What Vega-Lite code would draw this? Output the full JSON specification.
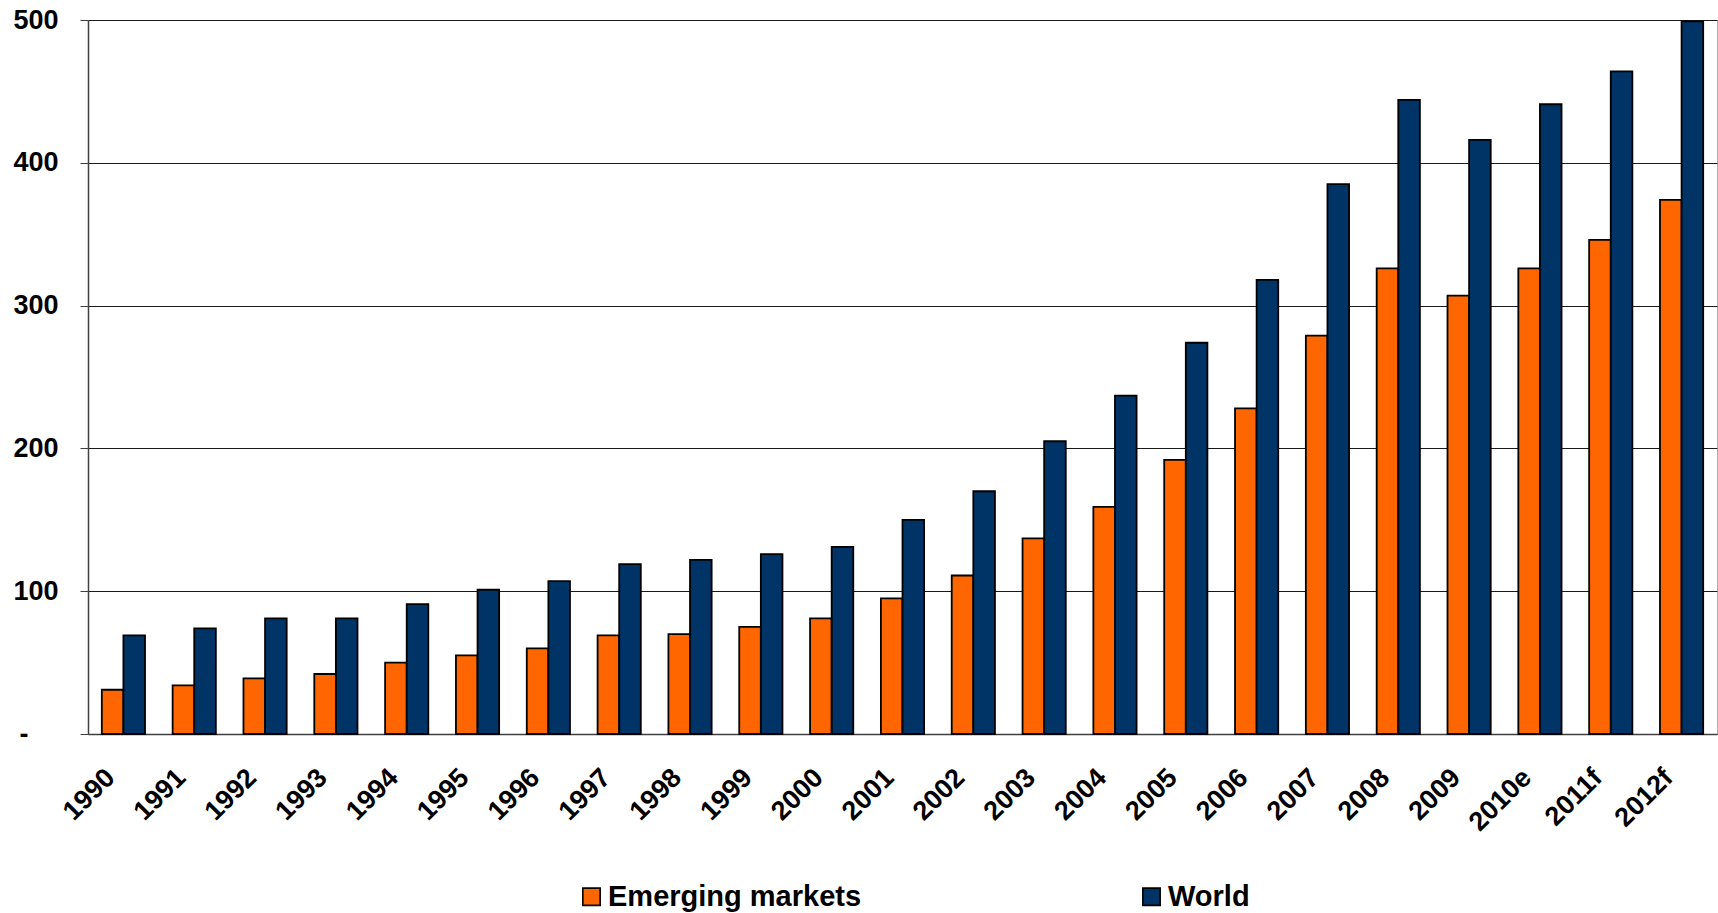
{
  "$schema": "https://vega.github.io/schema/vega-lite/v6.json",
  "autosize": {"type": "none"},
  "padding": {"left": 88, "top": 20, "right": 1, "bottom": 179},
  "width": 1629,
  "height": 714,
  "background": "#ffffff",
  "config": {
    "font": "Liberation Sans",
    "view": {"stroke": "#b0b0b0", "strokeWidth": 1}
  },
  "data": {
    "values": [
      {"year": "1990", "series": "Emerging markets", "value": 31},
      {"year": "1990", "series": "World", "value": 69},
      {"year": "1991", "series": "Emerging markets", "value": 34},
      {"year": "1991", "series": "World", "value": 74},
      {"year": "1992", "series": "Emerging markets", "value": 39},
      {"year": "1992", "series": "World", "value": 81},
      {"year": "1993", "series": "Emerging markets", "value": 42},
      {"year": "1993", "series": "World", "value": 81},
      {"year": "1994", "series": "Emerging markets", "value": 50},
      {"year": "1994", "series": "World", "value": 91},
      {"year": "1995", "series": "Emerging markets", "value": 55},
      {"year": "1995", "series": "World", "value": 101},
      {"year": "1996", "series": "Emerging markets", "value": 60},
      {"year": "1996", "series": "World", "value": 107},
      {"year": "1997", "series": "Emerging markets", "value": 69},
      {"year": "1997", "series": "World", "value": 119},
      {"year": "1998", "series": "Emerging markets", "value": 70},
      {"year": "1998", "series": "World", "value": 122},
      {"year": "1999", "series": "Emerging markets", "value": 75},
      {"year": "1999", "series": "World", "value": 126},
      {"year": "2000", "series": "Emerging markets", "value": 81},
      {"year": "2000", "series": "World", "value": 131},
      {"year": "2001", "series": "Emerging markets", "value": 95},
      {"year": "2001", "series": "World", "value": 150},
      {"year": "2002", "series": "Emerging markets", "value": 111},
      {"year": "2002", "series": "World", "value": 170},
      {"year": "2003", "series": "Emerging markets", "value": 137},
      {"year": "2003", "series": "World", "value": 205},
      {"year": "2004", "series": "Emerging markets", "value": 159},
      {"year": "2004", "series": "World", "value": 237},
      {"year": "2005", "series": "Emerging markets", "value": 192},
      {"year": "2005", "series": "World", "value": 274},
      {"year": "2006", "series": "Emerging markets", "value": 228},
      {"year": "2006", "series": "World", "value": 318},
      {"year": "2007", "series": "Emerging markets", "value": 279},
      {"year": "2007", "series": "World", "value": 385},
      {"year": "2008", "series": "Emerging markets", "value": 326},
      {"year": "2008", "series": "World", "value": 444},
      {"year": "2009", "series": "Emerging markets", "value": 307},
      {"year": "2009", "series": "World", "value": 416},
      {"year": "2010e", "series": "Emerging markets", "value": 326},
      {"year": "2010e", "series": "World", "value": 441},
      {"year": "2011f", "series": "Emerging markets", "value": 346},
      {"year": "2011f", "series": "World", "value": 464},
      {"year": "2012f", "series": "Emerging markets", "value": 374},
      {"year": "2012f", "series": "World", "value": 499}
    ]
  },
  "mark": {"type": "bar", "stroke": "#000000", "strokeWidth": 1.8},
  "encoding": {
    "x": {
      "field": "year",
      "type": "nominal",
      "sort": null,
      "title": null,
      "scale": {"paddingInner": 0.39, "paddingOuter": 0.195},
      "axis": {
        "labelAngle": -45,
        "labelFont": "Liberation Sans",
        "labelFontWeight": "bold",
        "labelFontSize": 27,
        "labelColor": "#000000",
        "labelPadding": 30,
        "labelOffset": -22,
        "ticks": false,
        "domainColor": "#404040",
        "domainWidth": 1.5,
        "grid": false
      }
    },
    "xOffset": {"field": "series", "type": "nominal"},
    "y": {
      "field": "value",
      "type": "quantitative",
      "title": null,
      "scale": {"domain": [0, 500], "nice": false},
      "axis": {
        "values": [0, 100, 200, 300, 400, 500],
        "labelExpr": "datum.value === 0 ? '-' : datum.label",
        "labelFont": "Liberation Sans",
        "labelFontWeight": "bold",
        "labelFontSize": 27,
        "labelColor": "#000000",
        "labelPadding": {"condition": {"test": "datum.value === 0", "value": 52}, "value": 22},
        "tickSize": 8,
        "tickColor": "#404040",
        "domainColor": "#404040",
        "domainWidth": 1.5,
        "grid": true,
        "gridColor": "#1a1a1a",
        "gridWidth": 1
      }
    },
    "fill": {
      "field": "series",
      "type": "nominal",
      "title": null,
      "scale": {"domain": ["Emerging markets", "World"], "range": ["#FF6600", "#003366"]},
      "legend": {
        "orient": "none",
        "direction": "horizontal",
        "columns": 2,
        "gridAlign": "all",
        "legendX": 489,
        "legendY": 862,
        "symbolType": "square",
        "symbolSize": 300,
        "symbolStrokeColor": "#000000",
        "symbolStrokeWidth": 1.6,
        "symbolOffset": 0,
        "labelOffset": 2,
        "labelFont": "Liberation Sans",
        "labelFontWeight": "bold",
        "labelFontSize": 29,
        "labelColor": "#000000",
        "labelLimit": 400,
        "columnPadding": 275
      }
    }
  }
}
